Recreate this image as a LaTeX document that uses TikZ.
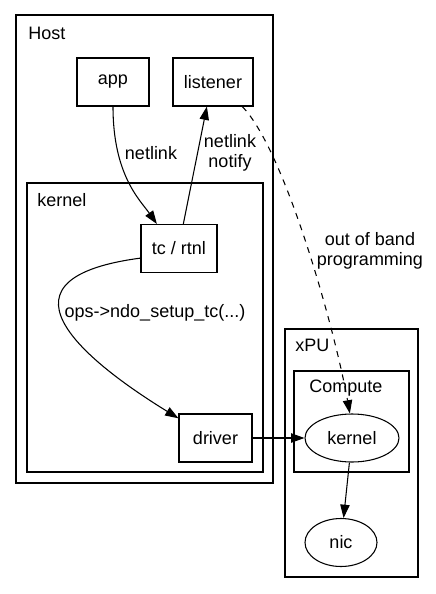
\documentclass[tikz,border=0pt]{standalone}
\usepackage{fontspec}
\setmainfont{Liberation Sans}
\usetikzlibrary{shapes.geometric,arrows.meta}

\begin{document}
\begin{tikzpicture}[x=0.75pt,y=-0.75pt,
        every node/.style={font=\fontsize{13.5}{15}\selectfont},
        box/.style={draw, line width=0.8pt, minimum height=36pt, inner sep=0pt},
        oval/.style={draw, ellipse, line width=0.8pt, minimum height=36pt, inner sep=0pt},
        grp/.style={draw, line width=0.8pt},
        lbl/.style={anchor=west, inner sep=0pt},
        tip/.style={line width=0.8pt, -{Triangle[length=10pt,width=7pt]}}]
        \useasboundingbox (0,0) rectangle (436,594);

        % clusters
        \draw[grp] (16,15) rectangle (273,483);
        \draw[grp] (27,183) rectangle (263,472);
        \draw[grp] (285,329) rectangle (418,577);
        \draw[grp] (294,371) rectangle (409,472);
        \node[lbl] (lhost) at (28,33) {Host};
        \node[lbl] (lkern) at (37,200) {kernel};
        \node[lbl] (lxpu) at (295,345) {xPU};
        \node[lbl] (lcomp) at (309,388) {Compute};

        \node[box, minimum width=54pt] (app) at (113,82) {app};
        \node[box, minimum width=60pt] (listener) at (213,82) {listener};
        \node[box, minimum width=57pt] (tc) at (179,248.5) {tc / rtnl};
        \node[box, minimum width=54.75pt] (driver) at (215.5,438) {driver};
        \node[oval, minimum width=70.5pt] (xk) at (352,438) {kernel};
        \node[oval, minimum width=54pt] (nic) at (341,542.5) {nic};

        \draw[tip] (app.south) .. controls (113,175) and (140,200) .. (tc.132);
        \draw[tip] (tc.80) -- (listener.256);
        \draw[tip] (tc.194) .. controls (-25,280) and (100,370) .. (driver.152);
        \draw[tip] (driver.east) -- (xk.west);
        \draw[tip, dash pattern=on 4.5pt off 4.5pt] (listener.320) .. controls (285,150) and (335,330) .. (xk.95);
        \draw[tip] (xk) -- (nic);

        \node (enl) at (151,153) {netlink};
        \node[align=center] (enn) at (230,153) {netlink\\notify};
        \node (eops) at (155,313) {ops->ndo\_setup\_tc(...)};
        \node[align=center] (eoob) at (370,251) {out of band\\programming};
\end{tikzpicture}
\end{document}
